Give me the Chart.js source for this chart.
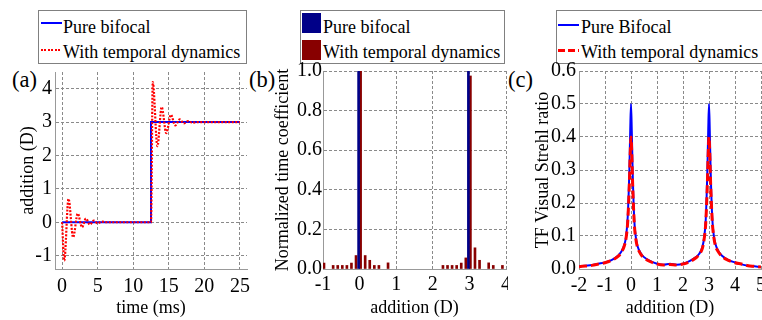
<!DOCTYPE html>
<html>
<head>
<meta charset="utf-8">
<script src="https://cdn.jsdelivr.net/npm/chart.js@4.4.1/dist/chart.umd.min.js"></script>
<style>
  body { margin: 0; width: 762px; height: 320px; background: #fff; overflow: hidden; position: relative;
         font-family: 'Liberation Serif', Tinos, 'Times New Roman', Times, 'DejaVu Serif', serif; color: #000; }
  canvas { position: absolute; }
  .legend { position: absolute; top: 10px; height: 54px; border: 1px solid #808080; box-sizing: border-box; }
  .txt { position: absolute; font-size: 18px; line-height: 18px; white-space: nowrap; }
  .tag { position: absolute; font-size: 22.5px; line-height: 22.5px; white-space: nowrap; }
  .mark { position: absolute; }
</style>
</head>
<body>
<!-- legends -->
<div class="legend" style="left:38px;width:209px"></div>
<div class="mark" style="left:41px;top:22px;width:21px;height:2px;background:#0000ff"></div>
<div class="txt" style="left:63px;top:18px">Pure bifocal</div>
<div class="mark" style="left:41px;top:49px;width:21px;height:2px;background:repeating-linear-gradient(to right,#ff0000 0 2px,transparent 2px 3.5px)"></div>
<div class="txt" style="left:63px;top:43px">With temporal dynamics</div>

<div class="legend" style="left:300px;width:205px"></div>
<div class="mark" style="left:302px;top:13px;width:19px;height:20px;background:#000088"></div>
<div class="txt" style="left:323px;top:18px">Pure bifocal</div>
<div class="mark" style="left:302px;top:40px;width:19px;height:20px;background:#880000"></div>
<div class="txt" style="left:323px;top:43px">With temporal dynamics</div>

<div class="legend" style="left:556px;width:230px"></div>
<div class="mark" style="left:558px;top:24px;width:21px;height:2px;background:#0000ff"></div>
<div class="txt" style="left:581px;top:18px">Pure Bifocal</div>
<div class="mark" style="left:558px;top:49px;width:21px;height:3px;background:repeating-linear-gradient(to right,#ff0000 0 7px,transparent 7px 10px)"></div>
<div class="txt" style="left:581px;top:43px">With temporal dynamics</div>

<div class="tag" style="left:12px;top:69px">(a)</div>
<div class="tag" style="left:249px;top:69px">(b)</div>
<div class="tag" style="left:508px;top:69px">(c)</div>

<canvas id="chartA" width="254" height="260" style="left:0;top:60px"></canvas>
<canvas id="chartB" width="254" height="260" style="left:254px;top:60px"></canvas>
<canvas id="chartC" width="254" height="260" style="left:508px;top:60px"></canvas>

<script>
// (a) addition vs time
const timeBifocal = [0, 12.5, 12.5, 25];
const additionBifocal = [0, 0, 3, 3];
const timeTemporal = [0, 0.3, 0.9, 1.55, 2.2, 2.8, 3.35, 3.9, 4.45, 5.0, 5.6, 6.2, 12.5, 12.75, 13.4, 14.0, 14.65, 15.3, 15.9, 16.55, 17.1, 17.7, 18.3, 19.0, 25];
const additionTemporal = [0, -1.15, 0.7, -0.45, 0.26, -0.15, 0.11, -0.07, 0.05, -0.03, 0.02, 0, 0, 4.2, 2.28, 3.45, 2.67, 3.22, 2.9, 3.08, 2.96, 3.03, 2.98, 3.0, 3.0];
const timeTicks = [0, 5, 10, 15, 20, 25];
const additionTicksA = [-1, 0, 1, 2, 3, 4];

// (b) normalized time coefficient
const bifocalPos = [0, 3];
const bifocalCoef = [1, 1];
const temporalPos = [-1, -0.75, -0.625, -0.5, -0.375, -0.25, -0.125, 0, 0.125, 0.25, 0.375, 0.5, 0.75,
  2.25, 2.375, 2.5, 2.625, 2.75, 2.875, 3, 3.125, 3.25, 3.5, 3.625, 3.875];
const temporalCoef = [0.03, 0.018, 0.018, 0.018, 0.018, 0.03, 0.068, 1.0, 0.068, 0.044, 0.018, 0.018, 0.031,
  0.018, 0.018, 0.018, 0.018, 0.03, 0.056, 0.975, 0.107, 0.044, 0.031, 0.018, 0.018];
const additionTicksB = [-1, 0, 1, 2, 3, 4];
const coefTicks = [0, 0.2, 0.4, 0.6, 0.8, 1.0];

// (c) TF visual Strehl ratio
const additionC = [-2, -1.75, -1.5, -1.25, -1, -0.75, -0.5, -0.375, -0.25, -0.1875, -0.125, -0.0625, -0.03, 0, 0.03, 0.0625, 0.125, 0.1875, 0.25, 0.375, 0.5, 0.75,
  1, 1.25, 1.5, 1.75, 2, 2.25, 2.5, 2.625, 2.75, 2.8125, 2.875, 2.9375, 2.97, 3, 3.03, 3.0625, 3.125, 3.1875, 3.25, 3.375, 3.5, 3.75, 4, 4.25, 4.5, 4.75, 5];
const strehlBifocal = [0.008, 0.010, 0.012, 0.016, 0.020, 0.027, 0.040, 0.052, 0.075, 0.100, 0.160, 0.300, 0.420, 0.500, 0.420, 0.300, 0.150, 0.095, 0.070, 0.048, 0.036, 0.024,
  0.016, 0.013, 0.016, 0.013, 0.016, 0.024, 0.036, 0.046, 0.068, 0.095, 0.150, 0.300, 0.420, 0.500, 0.420, 0.300, 0.155, 0.100, 0.075, 0.052, 0.040, 0.027, 0.020, 0.014, 0.010, 0.008, 0.006];
const strehlTemporal = [0.007, 0.009, 0.011, 0.015, 0.019, 0.026, 0.038, 0.050, 0.072, 0.095, 0.145, 0.260, 0.350, 0.400, 0.350, 0.260, 0.140, 0.090, 0.066, 0.045, 0.034, 0.022,
  0.015, 0.012, 0.014, 0.012, 0.015, 0.022, 0.034, 0.044, 0.064, 0.090, 0.140, 0.260, 0.350, 0.400, 0.350, 0.260, 0.145, 0.095, 0.070, 0.050, 0.038, 0.026, 0.019, 0.015, 0.010, 0.008, 0.006];
const additionTicksC = [-2, -1, 0, 1, 2, 3, 4, 5];
const strehlTicks = [0, 0.1, 0.2, 0.3, 0.4, 0.5, 0.6];

Chart.defaults.font.family = "'Liberation Serif', Tinos, 'Times New Roman', Times, 'DejaVu Serif', serif";
Chart.defaults.color = '#000';

const gridColor = '#8a8a8a';
const axisColor = '#999';
const pts = (xs, ys) => xs.map((x, i) => ({ x: x, y: ys[i] }));

const xAxis = (min, max, ticks, label, pad, fmt) => ({
  type: 'linear', min: min, max: max, offset: false,
  afterBuildTicks: (s) => { s.ticks = ticks.map((v) => ({ value: v })); },
  afterFit: (s) => { s.height = 51; s.paddingLeft = 0; s.paddingRight = 0; },
  ticks: { font: { size: 20 }, padding: pad, maxRotation: 0, autoSkip: false, callback: fmt },
  grid: { color: gridColor, drawTicks: false, offset: false },
  border: { color: axisColor, width: 1, dash: [3, 2] },
  title: { display: true, text: label, font: { size: 18 }, padding: { top: 0, bottom: 1.2 } },
});

const yAxis = (min, max, ticks, label, width, pad, titlePad, fmt) => ({
  type: 'linear', min: min, max: max,
  afterBuildTicks: (s) => { s.ticks = ticks.map((v) => ({ value: v })); },
  afterFit: (s) => { s.width = width; s.paddingTop = 0; s.paddingBottom = 0; },
  ticks: { font: { size: 20 }, padding: pad, autoSkip: false, callback: fmt },
  grid: { color: gridColor, drawTicks: false },
  border: { color: axisColor, width: 1, dash: [3, 2] },
  title: { display: true, text: label, font: { size: 18 }, padding: { top: titlePad, bottom: 0 } },
});

const baseOptions = (padRight) => ({
  responsive: false, animation: false, devicePixelRatio: 1,
  layout: { padding: { top: 11, right: padRight, left: 0, bottom: 0 } },
  plugins: { legend: { display: false }, tooltip: { enabled: false } },
});

const intLabel = (v) => String(v);
const oneDec = (v) => v.toFixed(1);

new Chart(document.querySelector('#chartA'), {
  type: 'line',
  data: {
    datasets: [
      { label: 'Pure bifocal', data: pts(timeBifocal, additionBifocal), borderColor: '#0000ff',
        borderWidth: 2, pointRadius: 0, tension: 0, order: 1 },
      { label: 'With temporal dynamics', data: pts(timeTemporal, additionTemporal), borderColor: '#ff0000',
        borderWidth: 2.2, borderDash: [2, 1.5], pointRadius: 0, cubicInterpolationMode: 'monotone', order: 0 },
    ],
  },
  options: {
    ...baseOptions(7),
    layout: { padding: { top: 12, right: 7, left: 0, bottom: 0 } },
    scales: {
      x: xAxis(-1, 26, timeTicks, 'time (ms)', 6, intLabel),
      y: yAxis(-1.4, 4.5, additionTicksA, 'addition (D)', 55, 3, 17.2, intLabel),
    },
  },
});

new Chart(document.querySelector('#chartB'), {
  type: 'bar',
  data: {
    datasets: [
      { label: 'Pure bifocal', data: pts(bifocalPos, bifocalCoef), backgroundColor: '#000088', barThickness: 2 },
      { label: 'With temporal dynamics', data: pts(temporalPos, temporalCoef), backgroundColor: '#880000', barThickness: 2 },
    ],
  },
  options: {
    ...baseOptions(2),
    scales: {
      x: xAxis(-1, 4, additionTicksB, 'addition (D)', 4, intLabel),
      y: yAxis(0, 1, coefTicks, 'Normalized time coefficient', 69, 1, 18.2, oneDec),
    },
  },
});

new Chart(document.querySelector('#chartC'), {
  type: 'line',
  data: {
    datasets: [
      { label: 'Pure Bifocal', data: pts(additionC, strehlBifocal), borderColor: '#0000ff',
        borderWidth: 2, pointRadius: 0, cubicInterpolationMode: 'monotone', order: 1 },
      { label: 'With temporal dynamics', data: pts(additionC, strehlTemporal), borderColor: '#ff0000',
        borderWidth: 3, borderDash: [8, 4], pointRadius: 0, cubicInterpolationMode: 'monotone', order: 0 },
    ],
  },
  options: {
    ...baseOptions(1),
    scales: {
      x: xAxis(-2, 5, additionTicksC, 'addition (D)', 5, intLabel),
      y: yAxis(0, 0.6, strehlTicks, 'TF Visual Strehl ratio', 71, 3, 24.2, oneDec),
    },
  },
});
</script>
</body>
</html>
